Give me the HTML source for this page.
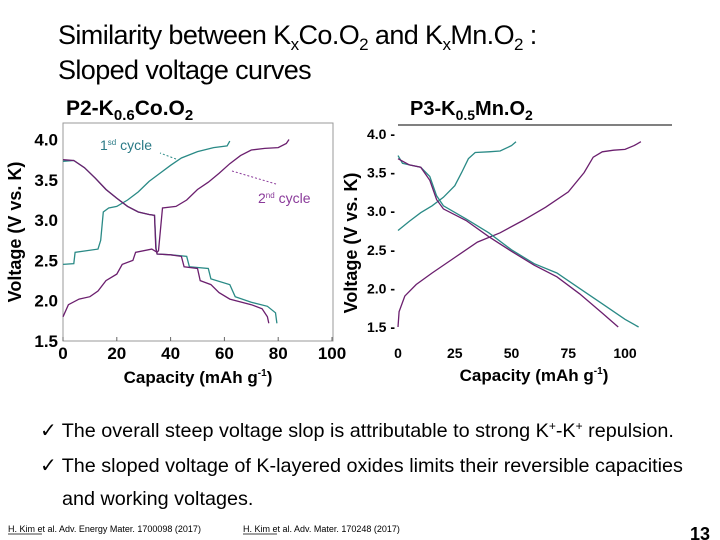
<!DOCTYPE html>
<html><head><meta charset="utf-8"><style>
body{margin:0;background:#fff;}
svg{display:block;font-family:"Liberation Sans",Arial,sans-serif;}
</style></head><body>
<svg id="s" width="720" height="540" viewBox="0 0 720 540">
<text x="58" y="44" font-size="27" letter-spacing="-0.6">Similarity between K<tspan font-size="17" dy="6">x</tspan><tspan dy="-6">Co.O</tspan><tspan font-size="17" dy="6">2</tspan><tspan dy="-6"> and K</tspan><tspan font-size="17" dy="6">x</tspan><tspan dy="-6">Mn.O</tspan><tspan font-size="17" dy="6">2</tspan><tspan dy="-6"> :</tspan></text>
<text x="58" y="79" font-size="27" letter-spacing="-0.6">Sloped voltage curves</text>
<text x="66" y="115" font-size="21" font-weight="bold">P2-K<tspan font-size="15" dy="5">0.6</tspan><tspan dy="-5">Co.O</tspan><tspan font-size="15" dy="5">2</tspan></text>
<text x="410" y="115" font-size="20" font-weight="bold">P3-K<tspan font-size="14" dy="5">0.5</tspan><tspan dy="-5">Mn.O</tspan><tspan font-size="14" dy="5">2</tspan></text>
<g id="left"></g>
<g id="right"></g>
<g font-size="19.8" fill="#000">
<text x="40" y="437">✓ The overall steep voltage slop is attributable to strong K<tspan font-size="12" dy="-7">+</tspan><tspan dy="7">-K</tspan><tspan font-size="12" dy="-7">+</tspan><tspan dy="7"> repulsion.</tspan></text>
<text x="40" y="472">✓ The sloped voltage of K-layered oxides limits their reversible capacities</text>
<text x="62" y="505">and working voltages.</text>
</g>
<text x="8" y="532" font-size="9">H. Kim et al. Adv. Energy Mater. 1700098 (2017)</text>
<line x1="8" y1="534" x2="42" y2="534" stroke="#000" stroke-width="0.7"/>
<text x="243" y="532" font-size="9">H. Kim et al. Adv. Mater. 170248 (2017)</text>
<line x1="243" y1="534" x2="277" y2="534" stroke="#000" stroke-width="0.7"/>
<text x="690" y="540" font-size="18" font-weight="bold">13</text>
</svg>
<script>
// Left chart data (P2-K0.6CoO2)
const L_xTicks=[0,20,40,60,80,100];
const L_yTicks=[1.5,2.0,2.5,3.0,3.5,4.0];
const L_teal1X=[0,4,4.5,13,14,15,17,20,24,28,32,36,40,44,50,56,61,62];
const L_teal1Y=[2.45,2.46,2.6,2.64,2.75,3.1,3.15,3.17,3.25,3.35,3.48,3.58,3.68,3.77,3.85,3.9,3.92,3.98];
const L_tealDisX=[0,4,8,12,16,20,24,28,32,34,34.6,35,40,46,47,54,55,62,64,70,76,79,79.5];
const L_tealDisY=[3.73,3.74,3.65,3.52,3.38,3.27,3.17,3.1,3.07,3.06,2.65,2.58,2.57,2.55,2.42,2.4,2.27,2.2,2.05,1.98,1.93,1.85,1.72];
const L_purChX=[0,2,6,10,13,16,20,22,26,27,33,35,35.5,37,42,46,50,54,58,62,66,70,75,80,83,84];
const L_purChY=[1.8,1.95,2.02,2.05,2.12,2.25,2.33,2.45,2.5,2.6,2.64,2.6,2.62,3.15,3.17,3.25,3.38,3.47,3.58,3.7,3.8,3.87,3.89,3.9,3.95,4.0];
const L_purDisX=[0,4,8,12,16,20,24,28,32,34,34.5,35,40,44,45,50,51,55,58,62,70,74,76,76.5];
const L_purDisY=[3.75,3.74,3.65,3.52,3.38,3.27,3.17,3.1,3.07,3.06,2.65,2.58,2.57,2.55,2.42,2.4,2.25,2.2,2.1,2.02,1.95,1.9,1.8,1.72];
// Right chart data (P3-K0.5MnO2)
const R_xTicks=[0,25,50,75,100];
const R_yTicks=[1.5,2.0,2.5,3.0,3.5,4.0];
const R_tealChX=[0,5,10,15,20,25,28,31,34,40,45,50,52];
const R_tealChY=[2.75,2.87,2.98,3.07,3.18,3.33,3.5,3.68,3.76,3.77,3.78,3.85,3.9];
const R_purChX=[0,0.5,3,8,15,25,35,45,55,65,75,82,86,90,95,100,104,107];
const R_purChY=[1.5,1.7,1.9,2.05,2.2,2.4,2.6,2.72,2.88,3.05,3.25,3.5,3.7,3.77,3.79,3.8,3.85,3.9];
const R_tealDisX=[0,2,5,10,14,17,20,30,40,50,60,70,80,90,100,106];
const R_tealDisY=[3.72,3.62,3.6,3.57,3.45,3.2,3.07,2.9,2.72,2.5,2.32,2.2,2.0,1.8,1.6,1.5];
const R_purDisX=[0,5,10,14,17,20,30,40,50,60,70,80,90,97];
const R_purDisY=[3.68,3.6,3.57,3.4,3.15,3.03,2.88,2.67,2.48,2.3,2.15,1.93,1.68,1.5];

const NS='http://www.w3.org/2000/svg';
function mk(p,t,a){const e=document.createElementNS(NS,t);for(const k in a)e.setAttribute(k,a[k]);p.appendChild(e);return e;}
function line(g,xs,ys,sx,sy,col,name){
  const d=xs.map((x,i)=>(i?'L':'M')+sx(x).toFixed(1)+','+sy(ys[i]).toFixed(1)).join('');
  const p=mk(g,'path',{d:d,fill:'none',stroke:col,'stroke-width':1.3});
  
  
}
const TEAL='#2a8a86',PUR='#6b1f6e';
// Left
(function(){
  const g=document.getElementById('left');
  const sx=v=>63+v*2.69, sy=v=>341-(v-1.5)*80.6;
  const f=mk(g,'rect',{x:63,y:123,width:270,height:218,fill:'none',stroke:'#999','stroke-width':1});
  
  
  L_xTicks.forEach(v=>{
    const t=mk(g,'text',{x:sx(v),y:359,'font-size':17,'font-weight':'bold','text-anchor':'middle'});t.textContent=v;
    
    
    mk(g,'line',{x1:sx(v),x2:sx(v),y1:341,y2:337,stroke:'#666'});
  });
  L_yTicks.forEach(v=>{
    const t=mk(g,'text',{x:58,y:sy(v)+6,'font-size':17,'font-weight':'bold','text-anchor':'end'});t.textContent=v.toFixed(1);
    
    
  });
  line(g,L_teal1X,L_teal1Y,sx,sy,TEAL,'first-cycle-charge');
  line(g,L_tealDisX,L_tealDisY,sx,sy,TEAL,'first-cycle-discharge');
  line(g,L_purChX,L_purChY,sx,sy,PUR,'second-cycle-charge');
  line(g,L_purDisX,L_purDisY,sx,sy,PUR,'second-cycle-discharge');
  const a=mk(g,'text',{x:100,y:150,'font-size':14,fill:'#2a7a86'});a.innerHTML='1<tspan font-size="8" dy="-5">sd</tspan><tspan dy="5"> cycle</tspan>';
  
  
  mk(g,'line',{x1:176,y1:159,x2:160,y2:153,stroke:TEAL,'stroke-dasharray':'2,2'});
  const b=mk(g,'text',{x:258,y:203,'font-size':14,fill:'#8a3a9a'});b.innerHTML='2<tspan font-size="8" dy="-5">nd</tspan><tspan dy="5"> cycle</tspan>';
  
  
  mk(g,'line',{x1:232,y1:171,x2:276,y2:184,stroke:'#8a3a9a','stroke-dasharray':'2,2'});
  const yt=mk(g,'text',{x:0,y:0,'font-size':18,'font-weight':'bold','text-anchor':'middle',transform:'translate(21,232) rotate(-90)'});yt.textContent='Voltage (V vs. K)';
  
  
  const xt=mk(g,'text',{x:198,y:383,'font-size':17,'font-weight':'bold','text-anchor':'middle'});xt.innerHTML='Capacity (mAh g<tspan font-size="10" dy="-7">-1</tspan><tspan dy="7">)</tspan>';
  
  
})();
// Right
(function(){
  const g=document.getElementById('right');
  const sx=v=>398+v*2.27, sy=v=>327-(v-1.5)*77.2;
  mk(g,'line',{x1:398,x2:672,y1:125,y2:125,stroke:'#000','stroke-width':1});
  R_xTicks.forEach(v=>{
    const t=mk(g,'text',{x:sx(v),y:358,'font-size':14,'font-weight':'bold','text-anchor':'middle'});t.textContent=v;
    
    
  });
  R_yTicks.forEach(v=>{
    const t=mk(g,'text',{x:395,y:sy(v)+5,'font-size':14,'font-weight':'bold','text-anchor':'end'});t.textContent=v.toFixed(1)+' -';
    
    
  });
  line(g,R_tealChX,R_tealChY,sx,sy,TEAL,'teal-charge');
  line(g,R_purChX,R_purChY,sx,sy,PUR,'purple-charge');
  line(g,R_tealDisX,R_tealDisY,sx,sy,TEAL,'teal-discharge');
  line(g,R_purDisX,R_purDisY,sx,sy,PUR,'purple-discharge');
  const yt=mk(g,'text',{x:0,y:0,'font-size':18,'font-weight':'bold','text-anchor':'middle',transform:'translate(357,243) rotate(-90)'});yt.textContent='Voltage (V vs. K)';
  
  
  const xt=mk(g,'text',{x:534,y:381,'font-size':17,'font-weight':'bold','text-anchor':'middle'});xt.innerHTML='Capacity (mAh g<tspan font-size="10" dy="-7">-1</tspan><tspan dy="7">)</tspan>';
  
  
})();
</script>
</body></html>
